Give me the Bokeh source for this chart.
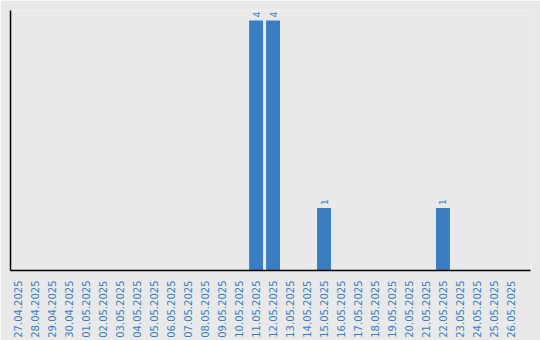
import math
from bokeh.plotting import figure
from bokeh.models import ColumnDataSource, Range1d, FixedTicker
from bokeh.core.properties import value
from bokeh.embed import file_html
from bokeh.resources import INLINE

# Daily counts, 27.04.2025 - 26.05.2025
dates = [
    "27.04.2025", "28.04.2025", "29.04.2025", "30.04.2025", "01.05.2025",
    "02.05.2025", "03.05.2025", "04.05.2025", "05.05.2025", "06.05.2025",
    "07.05.2025", "08.05.2025", "09.05.2025", "10.05.2025", "11.05.2025",
    "12.05.2025", "13.05.2025", "14.05.2025", "15.05.2025", "16.05.2025",
    "17.05.2025", "18.05.2025", "19.05.2025", "20.05.2025", "21.05.2025",
    "22.05.2025", "23.05.2025", "24.05.2025", "25.05.2025", "26.05.2025",
]
counts = [0, 0, 0, 0, 0, 0, 0, 0, 0, 0,
          0, 0, 0, 0, 4, 4, 0, 0, 1, 0,
          0, 0, 0, 0, 0, 1, 0, 0, 0, 0]

BG = "#e9e9e9"
BLUE = "#3a7dc3"
FONT = "DejaVu Sans"

idx = list(range(len(dates)))
src = ColumnDataSource(dict(x=idx, y=counts))
nz = [i for i, c in enumerate(counts) if c > 0]
lab_src = ColumnDataSource(dict(x=[idx[i] for i in nz], y=[counts[i] for i in nz],
                                lbl=[str(counts[i]) for i in nz]))

p = figure(width=540, height=340, output_backend="svg", toolbar_location=None,
           x_range=Range1d(-0.45, 30.15), y_range=Range1d(0, 4.16),
           min_border_left=10, min_border_right=10, min_border_top=10,
           min_border_bottom=70)
p.background_fill_color = BG
p.border_fill_color = BG
p.outline_line_color = None
p.xgrid.visible = False
p.ygrid.visible = False

p.vbar(x="x", top="y", width=0.82, source=src, fill_color=BLUE, line_color=None)
p.text(x="x", y="y", text="lbl", source=lab_src, angle=math.pi / 2,
       text_align="left", text_baseline="middle", y_offset=-3,
       text_color=BLUE, text_font=value(FONT), text_font_size="9px")

xa = p.xaxis[0]
xa.ticker = FixedTicker(ticks=idx)
xa.major_label_overrides = {i: d for i, d in enumerate(dates)}
xa.major_label_orientation = math.pi / 2
xa.major_label_text_color = BLUE
xa.major_label_text_font = FONT
xa.major_label_text_font_size = "10px"
xa.major_label_standoff = 4
xa.major_tick_line_color = None
xa.minor_tick_line_color = None
xa.axis_line_color = "black"
xa.axis_line_width = 1.5

ya = p.yaxis[0]
ya.ticker = FixedTicker(ticks=[])
ya.major_tick_line_color = None
ya.minor_tick_line_color = None
ya.major_label_standoff = 0
ya.major_tick_out = 0
ya.axis_line_color = "black"
ya.axis_line_width = 1.5

open("out.html", "w").write(file_html(p, INLINE))
